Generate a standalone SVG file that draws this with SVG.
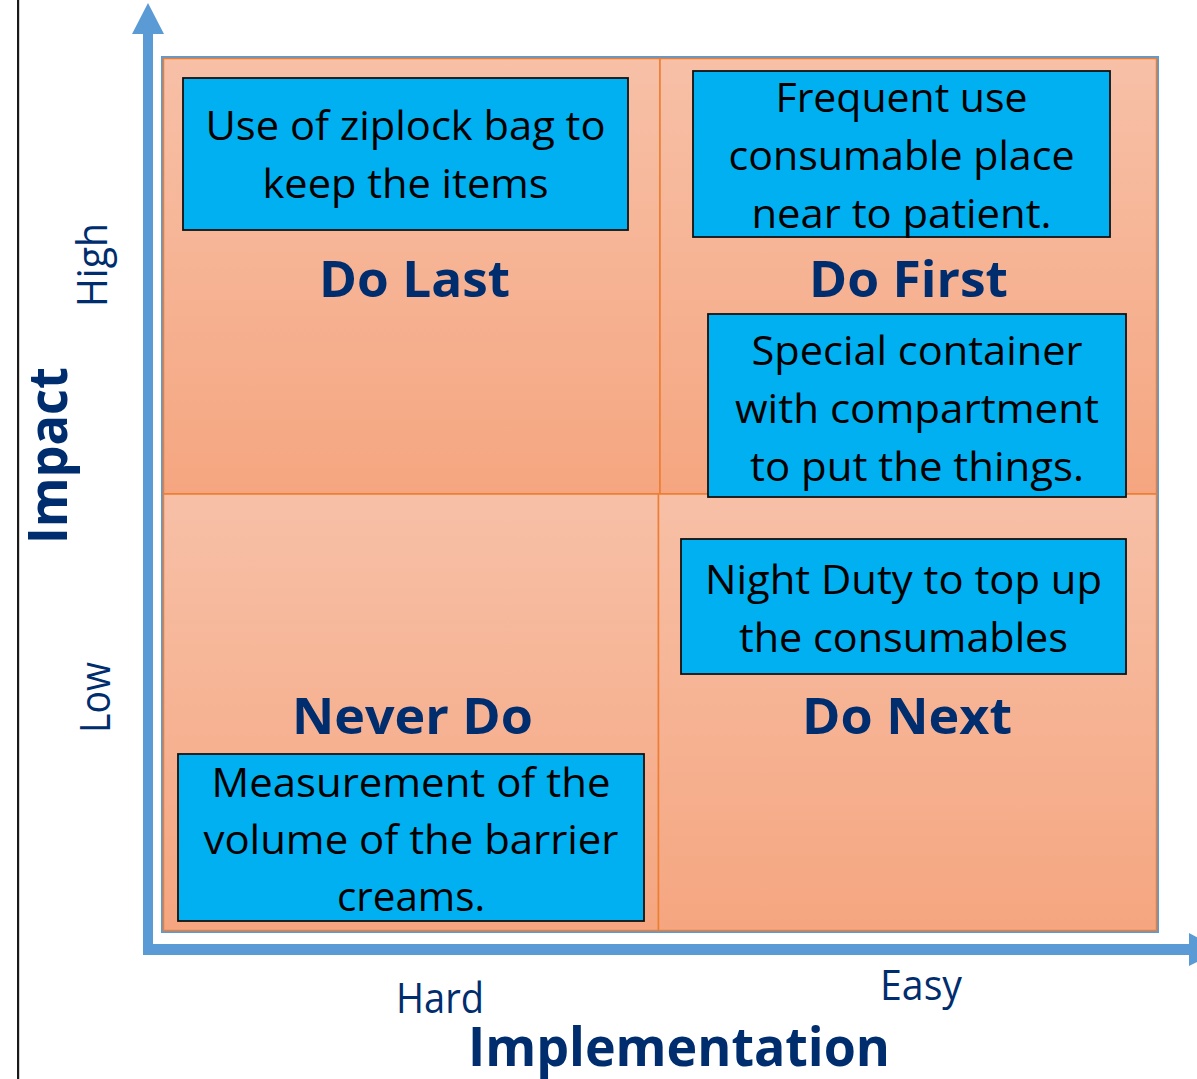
<svg xmlns="http://www.w3.org/2000/svg" width="1197" height="1079" viewBox="0 0 1197 1079">
<defs>
<linearGradient id="qfill" x1="0" y1="0" x2="0" y2="1">
<stop offset="0" stop-color="#F7C0A7"/>
<stop offset="1" stop-color="#F5A680"/>
</linearGradient>
</defs>
<style>
.quad{fill:url(#qfill);stroke:#ED7D31;stroke-width:1.5}
.box{fill:#00B0F0;stroke:#111;stroke-width:1.8}
.bt{font-family:"Open Sans","Liberation Sans",sans-serif;font-size:41px;fill:#000;text-anchor:middle}
.ql{font-family:"Open Sans","Liberation Sans",sans-serif;font-size:51px;font-weight:bold;fill:#002D6E;text-anchor:middle}
.ax{font-family:"Open Sans","Liberation Sans",sans-serif;font-size:42px;fill:#002D6E}
.axb{font-family:"Open Sans","Liberation Sans",sans-serif;font-size:54px;font-weight:bold;fill:#002D6E}
.arrow{fill:#5B9BD5}
</style>
<rect width="1197" height="1079" fill="#fff"/>
<rect x="17" y="0" width="2.2" height="1079" fill="#1a1a1a"/>

<g id="quadrants">
<rect x="162" y="57" width="996" height="875" fill="none" stroke="#5B9BD5" stroke-width="2"/>
<rect class="quad" x="163.5" y="58.5" width="496.5" height="435.5"/>
<rect class="quad" x="660" y="58.5" width="496.5" height="435.5"/>
<rect class="quad" x="163.5" y="494" width="495" height="436.5"/>
<rect class="quad" x="658.5" y="494" width="498" height="436.5"/>
</g>

<g id="connectors">
<path class="arrow" d="M143 955 L143 34 L132 34 L148 3 L164 34 L153 34 L153 944 L1189 944 L1189 933 L1221 949.5 L1189 966 L1189 955 Z"/>
</g>

<g id="label-do-last"><text class="ql" x="414.5" y="297" textLength="191" lengthAdjust="spacingAndGlyphs">Do Last</text></g>
<g id="label-do-first"><text class="ql" x="908.5" y="297" textLength="199" lengthAdjust="spacingAndGlyphs">Do First</text></g>
<g id="label-never-do"><text class="ql" x="412.5" y="734" textLength="241" lengthAdjust="spacingAndGlyphs">Never Do</text></g>
<g id="label-do-next"><text class="ql" x="907" y="734" textLength="210" lengthAdjust="spacingAndGlyphs">Do Next</text></g>

<g id="node-ziplock">
<rect class="box" x="183" y="78" width="445" height="152"/>
<text class="bt" x="405.5" y="140" textLength="400" lengthAdjust="spacingAndGlyphs">Use of ziplock bag to</text>
<text class="bt" x="405.5" y="198" textLength="286" lengthAdjust="spacingAndGlyphs">keep the items</text>
</g>

<g id="node-frequent">
<rect class="box" x="693" y="71" width="417" height="166"/>
<text class="bt" x="901.5" y="112" textLength="252" lengthAdjust="spacingAndGlyphs">Frequent use</text>
<text class="bt" x="901.5" y="170" textLength="346" lengthAdjust="spacingAndGlyphs">consumable place</text>
<text class="bt" x="901.5" y="228" textLength="300" lengthAdjust="spacingAndGlyphs">near to patient.</text>
</g>

<g id="node-container">
<rect class="box" x="708" y="314" width="418" height="183"/>
<text class="bt" x="917" y="365" textLength="331" lengthAdjust="spacingAndGlyphs">Special container</text>
<text class="bt" x="917" y="423" textLength="364" lengthAdjust="spacingAndGlyphs">with compartment</text>
<text class="bt" x="917" y="481" textLength="334" lengthAdjust="spacingAndGlyphs">to put the things.</text>
</g>

<g id="node-night-duty">
<rect class="box" x="681" y="539" width="445" height="135"/>
<text class="bt" x="903.5" y="594" textLength="397" lengthAdjust="spacingAndGlyphs">Night Duty to top up</text>
<text class="bt" x="903.5" y="652" textLength="329" lengthAdjust="spacingAndGlyphs">the consumables</text>
</g>

<g id="node-measurement">
<rect class="box" x="178" y="754" width="466" height="167"/>
<text class="bt" x="411" y="797" textLength="399" lengthAdjust="spacingAndGlyphs">Measurement of the</text>
<text class="bt" x="411" y="854" textLength="415" lengthAdjust="spacingAndGlyphs">volume of the barrier</text>
<text class="bt" x="411" y="911" textLength="148" lengthAdjust="spacingAndGlyphs">creams.</text>
</g>

<g id="axis-labels">
<text class="axb" transform="translate(67,544) rotate(-90)" x="0" y="0" textLength="177" lengthAdjust="spacingAndGlyphs">Impact</text>
<text class="ax" transform="translate(107,307) rotate(-90)" x="0" y="0" textLength="84" lengthAdjust="spacingAndGlyphs">High</text>
<text class="ax" transform="translate(110,733) rotate(-90)" x="0" y="0" textLength="71" lengthAdjust="spacingAndGlyphs">Low</text>
<text class="ax" x="396" y="1013" textLength="88" lengthAdjust="spacingAndGlyphs">Hard</text>
<text class="ax" x="880" y="1000" textLength="82" lengthAdjust="spacingAndGlyphs">Easy</text>
<text class="axb" x="468" y="1066" textLength="422" lengthAdjust="spacingAndGlyphs">Implementation</text>
</g>
</svg>
